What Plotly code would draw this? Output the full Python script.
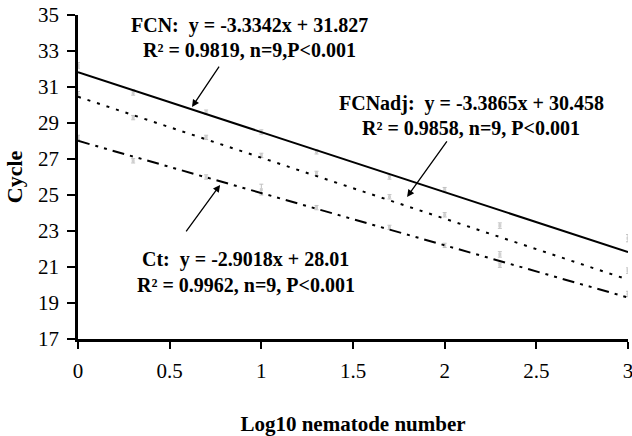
import plotly.graph_objects as go

# Data
x_log = [0, 0.301, 0.699, 1, 1.301, 1.699, 2, 2.301, 3]
fcn = [32.2, 30.7, 29.6, 28.5, 27.4, 26.0, 25.3, 23.3, 22.6]
fcnadj = [30.6, 29.3, 28.2, 27.2, 26.2, 24.9, 23.9, 21.7, 20.8]
ct = [28.2, 26.9, 26.0, 25.3, 24.3, 23.2, 22.2, 21.1, 19.5]
fcn_err = [0.15, 0.15, 0.12, 0.12, 0.12, 0.12, 0.12, 0.15, 0.2]
fcnadj_err = [0.15, 0.12, 0.12, 0.12, 0.12, 0.12, 0.12, 0.15, 0.15]
ct_err = [0.12, 0.12, 0.12, 0.3, 0.12, 0.12, 0.12, 0.12, 0.15]

series_names = ["FCN", "FCNadj", "Ct"]
slopes = [-3.3342, -3.3865, -2.9018]
intercepts = [31.827, 30.458, 28.01]
x_range = [0, 3]

FONT = "Liberation Serif, Times New Roman, serif"

fig = go.Figure()

# faint data points with error bars
for vals, errs in [(fcn, fcn_err), (fcnadj, fcnadj_err), (ct, ct_err)]:
    fig.add_trace(go.Scatter(
        x=x_log, y=vals, mode="markers",
        marker=dict(size=3, color="#d0d0d0", symbol="square"),
        error_y=dict(type="data", array=errs, color="#c0c0c0", thickness=1, width=2),
        showlegend=False, hoverinfo="skip"))

# regression lines
dashes = ["solid", "3px,7px", "12px,6px,3px,6px,3px,6px"]
for s, b, d in zip(slopes, intercepts, dashes):
    fig.add_trace(go.Scatter(
        x=x_range, y=[b + s * xv for xv in x_range], mode="lines",
        line=dict(color="black", width=2, dash=d),
        showlegend=False, hoverinfo="skip"))

texts = [
    ("FCN:  y = -3.3342x + 31.827", 0.933, 34.44),
    ("R² = 0.9819, n=9,P<0.001", 0.933, 33.06),
    ("FCNadj:  y = -3.3865x + 30.458", 2.146, 30.11),
    ("R² = 0.9858, n=9, P<0.001", 2.146, 28.72),
    ("Ct:  y = -2.9018x + 28.01", 0.916, 21.39),
    ("R² = 0.9962, n=9, P<0.001", 0.916, 20.0),
]
annotations = []
for t, xx, yy in texts:
    annotations.append(dict(x=xx, y=yy, xref="x", yref="y", text="<b>" + t + "</b>",
                            showarrow=False, xanchor="center", yanchor="middle",
                            font=dict(family=FONT, size=20, color="black")))

arrows = [
    (0.622, 29.89, 0.775, 32.22),
    (1.795, 24.89, 2.018, 28.06),
    (0.775, 25.56, 0.584, 22.89),
]
for hx, hy, tx, ty in arrows:
    annotations.append(dict(x=hx, y=hy, ax=tx, ay=ty, xref="x", yref="y",
                            axref="x", ayref="y", text="", showarrow=True,
                            arrowhead=2, arrowsize=1.1, arrowwidth=1.3,
                            arrowcolor="black"))

fig.update_layout(
    width=632, height=436,
    margin=dict(l=78, r=4, t=15, b=97, autoexpand=False),
    plot_bgcolor="white", paper_bgcolor="white",
    font=dict(family=FONT, color="black"),
    annotations=annotations,
    xaxis=dict(range=[0, 3], dtick=0.5, tick0=0, showgrid=False, zeroline=False,
               showline=True, linecolor="black", linewidth=2.5, automargin=False,
               ticks="outside", ticklen=7, tickwidth=2, tickcolor="black",
               tickfont=dict(family=FONT, size=21, color="black"),
               ticklabelstandoff=4, ticklabeloverflow="allow",
               title=dict(text="<b>Log10 nematode number</b>",
                          font=dict(family=FONT, size=21, color="black"), standoff=36)),
    yaxis=dict(range=[17, 35], dtick=2, tick0=17, showgrid=False, zeroline=False,
               showline=True, linecolor="black", linewidth=2.5, automargin=False,
               ticks="outside", ticklen=8, tickwidth=2, tickcolor="black",
               tickfont=dict(family=FONT, size=21, color="black"),
               ticklabelstandoff=4,
               title=dict(text="<b>Cycle</b>",
                          font=dict(family=FONT, size=22, color="black"), standoff=10)),
)

fig.write_html("out.html")
